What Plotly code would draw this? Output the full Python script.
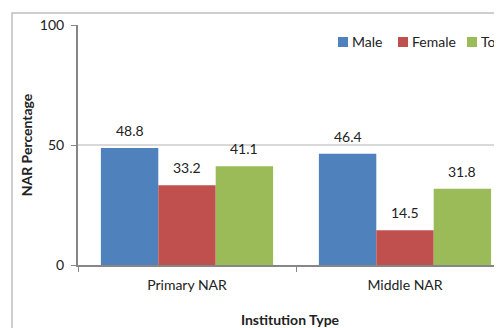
import plotly.graph_objects as go

categories = ["Primary NAR", "Middle NAR"]
male = [48.8, 46.4]
female = [33.2, 14.5]
total = [41.1, 31.8]
series_names = ["Male", "Female", "Total"]
colors = ["#4F81BD", "#C0504D", "#9BBB59"]
y_ticks = [0, 50, 100]

# page body has an 8px margin: figure pixel = window pixel - 8
OFF = 8
W, H = 502 - OFF, 328 - OFF
L, T = 78 - OFF, 25 - OFF
B = H - (265 - OFF)
plot_w = W - L
plot_h = H - T - B

font_family = "Lato, 'Open Sans', sans-serif"
BARGAP = 0.21
cat_px = 218.0
bar_px = cat_px * (1 - BARGAP) / 3
x_end = -0.5 + plot_w / cat_px

fig = go.Figure()
series_vals = [male, female, total]
for i, (name, vals, col) in enumerate(zip(series_names, series_vals, colors)):
    fig.add_trace(go.Bar(
        x=categories, y=vals, name=name, marker_color=col,
        marker_line_width=0, showlegend=False,
    ))
    for c, v in zip(categories, vals):
        fig.add_annotation(x=c, y=v, xref="x", yref="y", text=f"{v:.1f}",
                           showarrow=False, xanchor="center", yanchor="bottom",
                           xshift=(i - 1) * bar_px, yshift=7,
                           font=dict(size=14, color="#222222"))

def px_x(wx):
    return (wx - OFF - L) / plot_w

def px_y(wy):
    return 1 - (wy - OFF - T) / plot_h

fig.update_layout(
    width=W, height=H,
    margin=dict(l=L, r=0, t=T, b=B, autoexpand=False),
    paper_bgcolor="white", plot_bgcolor="white",
    barmode="group", bargap=BARGAP, bargroupgap=0,
    font=dict(family=font_family, size=14, color="#222222"),
    showlegend=False,
    xaxis=dict(range=[-0.5, x_end], showgrid=False, showline=True,
               linecolor="#868686", linewidth=2, ticks="outside",
               tickson="boundaries", ticklen=5, tickcolor="#868686",
               tickfont=dict(size=14), ticklabelstandoff=6,
               title=dict(text="<b>Institution Type</b>", font=dict(size=14), standoff=24)),
    yaxis=dict(range=[0, 100], tickvals=y_ticks, showgrid=True,
               gridcolor="#D9D9D9", gridwidth=2, showline=True,
               linecolor="#868686", linewidth=2, ticks="outside",
               ticklen=5, tickcolor="#868686", tickfont=dict(size=14),
               zeroline=False, ticklabelstandoff=4,
               title=dict(text="<b>NAR Percentage</b>", font=dict(size=14), standoff=4)),
)

# manual legend (Excel style: small square + label)
legend_sq_x = [338, 398, 467]
for name, col, sx in zip(series_names, colors, legend_sq_x):
    fig.add_shape(type="rect", xref="paper", yref="paper",
                  x0=px_x(sx), x1=px_x(sx + 10), y0=px_y(47), y1=px_y(37),
                  line=dict(width=0), fillcolor=col)
    fig.add_annotation(xref="paper", yref="paper", x=px_x(sx + 12), y=px_y(42),
                       text=name, showarrow=False, xanchor="left", yanchor="middle",
                       font=dict(size=14, color="#222222"))

# outer chart border (cropped)
fig.add_shape(type="rect", xref="paper", yref="paper",
              x0=px_x(12), x1=px_x(540), y0=px_y(360), y1=px_y(13),
              line=dict(color="#BFBFBF", width=1.5), layer="below")

fig.write_html("out.html")
